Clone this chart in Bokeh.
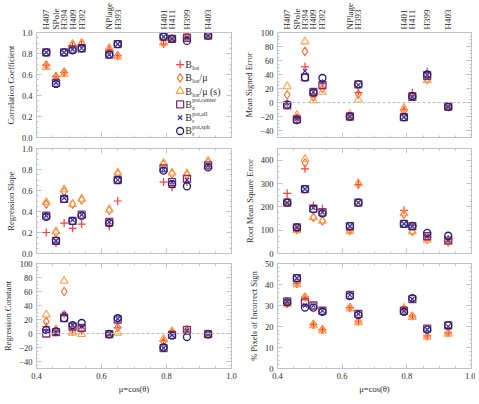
import numpy as np
from bokeh.plotting import figure
from bokeh.models import (Range1d, LinearAxis, FixedTicker, Span, Label,
                          CustomJSTickFormatter, NumeralTickFormatter)
from bokeh.layouts import gridplot
from bokeh.embed import file_html
from bokeh.resources import INLINE

# ---------------- data ----------------
mu = [0.43, 0.46, 0.485, 0.511, 0.539, 0.624, 0.65, 0.791, 0.817, 0.863, 0.928]
regions = ["H407", "SPole", "H394", "H409", "H392", "NPlage", "H393",
           "H401", "H411", "H399", "H403"]

# Correlation coefficient
cc_los     = [0.69, 0.58, 0.62, 0.87, 0.88, 0.84, 0.78, 0.89, 0.94, 0.96, 0.98]
cc_losmu   = [0.69, 0.58, 0.62, 0.88, 0.89, 0.84, 0.78, 0.90, 0.94, 0.97, 0.98]
cc_losmus  = [0.67, 0.56, 0.60, 0.89, 0.90, 0.85, 0.77, 0.90, 0.94, 0.97, 0.98]
cc_zcenter = [0.81, 0.52, 0.81, 0.84, 0.85, 0.79, 0.89, 0.96, 0.94, 0.95, 0.97]
cc_rall    = [0.81, 0.52, 0.81, 0.84, 0.85, 0.79, 0.89, 0.96, 0.94, 0.95, 0.97]
cc_rsph    = [0.81, 0.51, 0.81, 0.83, 0.85, 0.79, 0.89, 0.96, 0.94, 0.92, 0.97]

# Regression slope
rs_los     = [0.20, 0.10, 0.29, 0.24, 0.28, 0.26, 0.50, 0.68, 0.63, 0.68, 0.83]
rs_losmu   = [0.47, 0.20, 0.59, 0.47, 0.51, 0.41, 0.76, 0.85, 0.76, 0.75, 0.87]
rs_losmus  = [0.49, 0.21, 0.61, 0.47, 0.52, 0.42, 0.77, 0.86, 0.77, 0.76, 0.88]
rs_zcenter = [0.36, 0.12, 0.52, 0.31, 0.37, 0.30, 0.70, 0.81, 0.68, 0.71, 0.84]
rs_rall    = [0.36, 0.12, 0.53, 0.32, 0.37, 0.30, 0.70, 0.80, 0.68, 0.70, 0.84]
rs_rsph    = [0.35, 0.12, 0.52, 0.31, 0.36, 0.29, 0.70, 0.79, 0.66, 0.64, 0.82]

# Regression constant
rc_los     = [10, 4, 28, 6, 4, -1, 8, -10, 3, 5, -1]
rc_losmu   = [17, 4, 60, 4, 6, -1, 9, -12, 2, 4, -1]
rc_losmus  = [27, 6, 75, 1, -1, -1, 1, -8, 3, 5, -1]
rc_zcenter = [0, 2, 22, 10, 8, -1, 20, -21, -2, 5, -1]
rc_rall    = [3, 2, 28, 12, 10, -1, 21, -21, -2, 4, -1]
rc_rsph    = [5, 3, 22, 12, 15, -1, 22, -20, -3, -5, -1]

# Mean signed error
ms_los     = [-1, -23, 51, 12, 28, -20, 14, -10, 14, 44, -6]
ms_losmu   = [11, -22, 73, 8, 20, -20, 12, -12, 10, 33, -6]
ms_losmus  = [23, -18, 87, 3, 15, -17, 4, -8, 9, 32, -6]
ms_zcenter = [-4, -24, 36, 15, 25, -20, 26, -21, 8, 38, -6]
ms_rall    = [-1, -23, 45, 15, 29, -20, 25, -21, 8, 39, -6]
ms_rsph    = [-3, -25, 36, 14, 35, -20, 26, -21, 9, 40, -6]

# Root mean square error
rm_los     = [258, 110, 363, 206, 192, 100, 295, 185, 120, 70, 62]
rm_losmu   = [225, 102, 388, 155, 140, 98, 298, 168, 95, 60, 50]
rm_losmus  = [222, 100, 404, 155, 140, 96, 300, 172, 95, 58, 50]
rm_zcenter = [218, 112, 276, 192, 176, 117, 218, 127, 117, 74, 56]
rm_rall    = [218, 112, 276, 196, 176, 117, 218, 127, 117, 74, 56]
rm_rsph    = [218, 112, 276, 190, 172, 117, 218, 127, 117, 88, 76]

# % pixels of incorrect sign
ps_los     = [31, 40.5, 34, 21, 18.5, 29, 22.5, 29, 25, 15.5, 17]
ps_losmu   = [31, 40.5, 34, 21, 18.5, 29, 22.5, 28.5, 25, 15.5, 17]
ps_losmus  = [30.5, 40, 33.5, 20.5, 18, 28.5, 22, 28.5, 24.5, 15, 16.5]
ps_zcenter = [32, 43, 31.5, 30, 27.5, 35, 26, 27.5, 33, 19, 20.5]
ps_rall    = [32, 43, 30, 30, 27.5, 35, 26, 27.5, 33, 18.5, 20]
ps_rsph    = [31.5, 43, 29, 29, 27, 34.5, 25.5, 27, 33.5, 18.5, 20.5]

# ---------------- styles ----------------
FONT = "Liberation Serif"
FRAME = "#c2c2cc"
TXT = "#2a2a2a"

markers = ["cross", "diamond", "triangle", "square", "x", "circle"]
colors = ["#ff3b3b", "#ff6a2e", "#ffa040", "#8a2a6a", "#3a3aa8", "#1e1e70"]
sizes = [8, 8.5, 8, 7, 6, 7]
widths = [1.2, 1.1, 1.1, 1.3, 1.3, 1.3]

xmajor = [0.4, 0.6, 0.8, 1.0]
xminor = np.round(np.arange(0.4, 1.0001, 0.05), 3).tolist()

neg_fmt = CustomJSTickFormatter(code="return tick < 0 ? '\u2212' + Math.abs(tick) : String(tick);")


def style_axis(ax):
    ax.axis_line_color = FRAME
    ax.major_tick_line_color = FRAME
    ax.minor_tick_line_color = FRAME
    ax.major_tick_in = 5
    ax.major_tick_out = 0
    ax.minor_tick_in = 2
    ax.minor_tick_out = 0
    ax.major_label_text_font = FONT
    ax.major_label_text_font_size = "8.5px"
    ax.major_label_text_color = TXT
    ax.axis_label_text_font = FONT
    ax.axis_label_text_font_size = "8.5px"
    ax.axis_label_text_font_style = "normal"
    ax.axis_label_text_color = TXT


def hide_labels(ax):
    ax.formatter = CustomJSTickFormatter(code="return '';")
    ax.major_label_text_font_size = "0px"
    ax.major_label_standoff = 0
    ax.axis_label = None


def make_panel(series, ylo, yhi, ymaj, ymin_step, ylabel, col, rowi, yfmt, zero_line):
    borders = dict(
        min_border_left=27 if col == 0 else 40,
        min_border_right=6 if col == 0 else 4,
        min_border_top=[27, 5, 5][rowi],
        min_border_bottom=[6, 5, 25][rowi],
    )
    p = figure(frame_width=195 if col == 0 else 194, frame_height=105,
               x_range=Range1d(0.4, 1.0), y_range=Range1d(ylo, yhi),
               output_backend="svg", toolbar_location=None,
               background_fill_color="white", border_fill_color="white",
               outline_line_color=FRAME, **borders)
    p.xgrid.visible = False
    p.ygrid.visible = False

    yminor = np.round(np.arange(ylo, yhi + 1e-9, ymin_step), 4).tolist()

    # bottom axis
    xa = p.xaxis[0]
    xa.ticker = FixedTicker(ticks=xmajor, minor_ticks=xminor)
    style_axis(xa)
    if rowi == 2:
        xa.formatter = NumeralTickFormatter(format="0.0")
        xa.axis_label = "\u03bc=cos(\u03b8)"
        xa.major_label_standoff = 4
        xa.axis_label_standoff = 2
    else:
        hide_labels(xa)

    # left axis
    ya = p.yaxis[0]
    ya.ticker = FixedTicker(ticks=ymaj, minor_ticks=yminor)
    style_axis(ya)
    ya.formatter = yfmt
    ya.axis_label = ylabel
    ya.major_label_standoff = 4
    ya.axis_label_standoff = 3

    # right axis (ticks only)
    ra = LinearAxis(ticker=FixedTicker(ticks=ymaj, minor_ticks=yminor))
    style_axis(ra)
    hide_labels(ra)
    p.add_layout(ra, "right")

    # top axis
    if rowi == 0:
        ta = LinearAxis(ticker=FixedTicker(ticks=mu, minor_ticks=[]),
                        major_label_overrides={m: r for m, r in zip(mu, regions)})
        style_axis(ta)
        ta.major_tick_line_color = None
        ta.minor_tick_line_color = None
        ta.major_label_orientation = "vertical"
        ta.major_label_text_font_size = "9px"
        ta.major_label_standoff = 3
    else:
        ta = LinearAxis(ticker=FixedTicker(ticks=xmajor, minor_ticks=xminor))
        style_axis(ta)
        hide_labels(ta)
    p.add_layout(ta, "above")

    if zero_line:
        p.add_layout(Span(location=0, dimension="width", line_color="#bdbdbd",
                          line_dash="3 2", line_width=1))

    for ys, mk, c, s, w in zip(series, markers, colors, sizes, widths):
        p.scatter(mu, ys, marker=mk, size=s, line_color=c, fill_color=None,
                  line_width=w)
    return p


f01 = NumeralTickFormatter(format="0.0")

p1 = make_panel([cc_los, cc_losmu, cc_losmus, cc_zcenter, cc_rall, cc_rsph],
                0, 1, [0, 0.2, 0.4, 0.6, 0.8, 1.0], 0.05,
                "Correlation Coefficient", 0, 0, f01, False)
p2 = make_panel([rs_los, rs_losmu, rs_losmus, rs_zcenter, rs_rall, rs_rsph],
                0, 1, [0, 0.2, 0.4, 0.6, 0.8, 1.0], 0.05,
                "Regression Slope", 0, 1, f01, False)
p3 = make_panel([rc_los, rc_losmu, rc_losmus, rc_zcenter, rc_rall, rc_rsph],
                -50, 100, [-40, -20, 0, 20, 40, 60, 80, 100], 5,
                "Regression Constant", 0, 2, neg_fmt, True)
p4 = make_panel([ms_los, ms_losmu, ms_losmus, ms_zcenter, ms_rall, ms_rsph],
                -50, 100, [-40, -20, 0, 20, 40, 60, 80, 100], 5,
                "Mean Signed Error", 1, 0, neg_fmt, True)
p5 = make_panel([rm_los, rm_losmu, rm_losmus, rm_zcenter, rm_rall, rm_rsph],
                0, 450, [0, 100, 200, 300, 400], 25,
                "Root Mean Square Error", 1, 1, neg_fmt, False)
p6 = make_panel([ps_los, ps_losmu, ps_losmus, ps_zcenter, ps_rall, ps_rsph],
                0, 50, [0, 10, 20, 30, 40, 50], 2,
                "% Pixels of Incorrect Sign", 1, 2, neg_fmt, False)

# ---------------- legend (manual, in panel 1) ----------------
leg_x = 0.842
leg_tx = 0.858
leg_y = [0.695, 0.568, 0.442, 0.315, 0.189, 0.062]
leg_sub = ["los", "los", "los", "z", "r", "r"]
leg_sup = ["", "", "", "pot,center", "pot,all", "pot,sph"]
leg_tail = ["", "/\u03bc", "/\u03bc (s)", "", "", ""]

for i in range(6):
    p1.scatter([leg_x], [leg_y[i]], marker=markers[i], size=sizes[i],
               line_color=colors[i], fill_color=None, line_width=widths[i])
    p1.add_layout(Label(x=leg_tx, y=leg_y[i], text="B", text_font=FONT,
                        text_font_size="10px", text_color=TXT,
                        text_baseline="middle", text_align="left"))
    p1.add_layout(Label(x=leg_tx, y=leg_y[i], x_offset=6.8, y_offset=-3.5,
                        text=leg_sub[i], text_font=FONT, text_font_size="6px",
                        text_color=TXT, text_baseline="middle", text_align="left"))
    if leg_sup[i]:
        p1.add_layout(Label(x=leg_tx, y=leg_y[i], x_offset=6.8, y_offset=4,
                            text=leg_sup[i], text_font=FONT, text_font_size="6px",
                            text_color=TXT, text_baseline="middle", text_align="left"))
    if leg_tail[i]:
        p1.add_layout(Label(x=leg_tx, y=leg_y[i], x_offset=14,
                            text=leg_tail[i], text_font=FONT, text_font_size="10px",
                            text_color=TXT, text_baseline="middle", text_align="left"))

grid = gridplot([[p1, p4], [p2, p5], [p3, p6]], toolbar_location=None)

open("out.html", "w").write(file_html(grid, INLINE))
